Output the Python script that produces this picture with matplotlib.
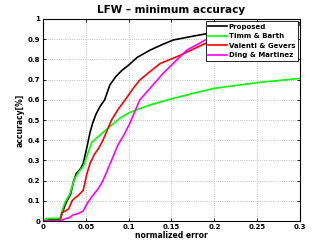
import matplotlib
matplotlib.use("Agg")
import matplotlib.pyplot as plt

# normalized error / accuracy curves
x_prop = [0, 0.005, 0.02, 0.025, 0.028, 0.032, 0.036, 0.039, 0.044, 0.047, 0.051, 0.055, 0.058, 0.062,
          0.067, 0.072, 0.078, 0.085, 0.092, 0.1, 0.11, 0.125, 0.14, 0.152, 0.175, 0.2, 0.25, 0.3]
y_prop = [0, 0.01, 0.01, 0.07, 0.1, 0.13, 0.2, 0.236, 0.26, 0.286, 0.36, 0.44, 0.485, 0.53,
          0.57, 0.6, 0.673, 0.715, 0.745, 0.772, 0.81, 0.846, 0.875, 0.896, 0.915, 0.934, 0.96, 0.98]

x_timm = [0, 0.005, 0.02, 0.023, 0.026, 0.031, 0.037, 0.042, 0.047, 0.052, 0.057, 0.065, 0.078,
          0.09, 0.1, 0.109, 0.125, 0.152, 0.175, 0.2, 0.25, 0.3]
y_timm = [0, 0.013, 0.013, 0.06, 0.095, 0.13, 0.21, 0.245, 0.27, 0.33, 0.39, 0.42, 0.467,
          0.51, 0.535, 0.55, 0.575, 0.607, 0.632, 0.657, 0.685, 0.706]

x_val = [0, 0.02, 0.022, 0.026, 0.03, 0.034, 0.037, 0.042, 0.047, 0.051, 0.055, 0.06, 0.065,
         0.07, 0.075, 0.08, 0.088, 0.096, 0.105, 0.113, 0.125, 0.137, 0.16, 0.2, 0.25, 0.3]
y_val = [0, 0, 0.04, 0.05, 0.06, 0.1, 0.113, 0.13, 0.153, 0.23, 0.286, 0.33, 0.36,
         0.4, 0.45, 0.5, 0.555, 0.6, 0.655, 0.698, 0.74, 0.78, 0.82, 0.9, 0.945, 0.97]

x_ding = [0, 0.02, 0.025, 0.03, 0.035, 0.04, 0.047, 0.052, 0.057, 0.065, 0.07, 0.075, 0.0875,
          0.095, 0.1015, 0.113, 0.125, 0.14, 0.152, 0.168, 0.2, 0.25, 0.3]
y_ding = [0, 0, 0.01, 0.015, 0.03, 0.035, 0.05, 0.09, 0.12, 0.163, 0.2, 0.25, 0.376,
          0.43, 0.485, 0.6, 0.657, 0.73, 0.78, 0.846, 0.92, 0.96, 0.975]

series = [
    ("Proposed", x_prop, y_prop, "black"),
    ("Timm & Barth", x_timm, y_timm, "#00ff00"),
    ("Valenti & Gevers", x_val, y_val, "red"),
    ("Ding & Martinez", x_ding, y_ding, "magenta"),
]

fig = plt.figure(figsize=(3.32, 2.49), dpi=100)
ax = fig.add_axes([0.1295, 0.1124, 0.7741, 0.8113])

for name, xs, ys, c in series:
    ax.plot(xs, ys, color=c, linewidth=1.2, label=name)

ax.set_xlim(0, 0.3)
ax.set_ylim(0, 1)
ax.set_xticks([0, 0.05, 0.1, 0.15, 0.2, 0.25, 0.3])
ax.set_xticklabels(["0", "0.05", "0.1", "0.15", "0.2", "0.25", "0.3"])
ax.set_yticks([i / 10 for i in range(11)])
ax.set_yticklabels(["0", "0.1", "0.2", "0.3", "0.4", "0.5", "0.6", "0.7", "0.8", "0.9", "1"])
ax.grid(True, linestyle=":", color="#b0b0b0", linewidth=0.6)
ax.tick_params(direction="in", length=2.5, width=0.6, labelsize=5, pad=2,
               top=True, right=True)
for lab in ax.get_xticklabels() + ax.get_yticklabels():
    lab.set_fontweight("bold")
for s in ax.spines.values():
    s.set_linewidth(0.8)

ax.set_xlabel("normalized error", fontsize=5.5, fontweight="bold", labelpad=1)
ax.set_ylabel("accuracy[%]", fontsize=5.5, fontweight="bold", labelpad=2)
ax.set_title("LFW \u2013 minimum accuracy", fontsize=7.5, fontweight="bold", pad=4)

leg = ax.legend(loc="upper right", frameon=True, fancybox=False,
                edgecolor="black", framealpha=1, borderpad=0.35, labelspacing=0.5,
                handlelength=2.6, handletextpad=0.3, borderaxespad=0.35,
                prop={"weight": "bold", "size": 5})
leg.get_frame().set_linewidth(0.6)

fig.savefig("out.png", dpi=100)
